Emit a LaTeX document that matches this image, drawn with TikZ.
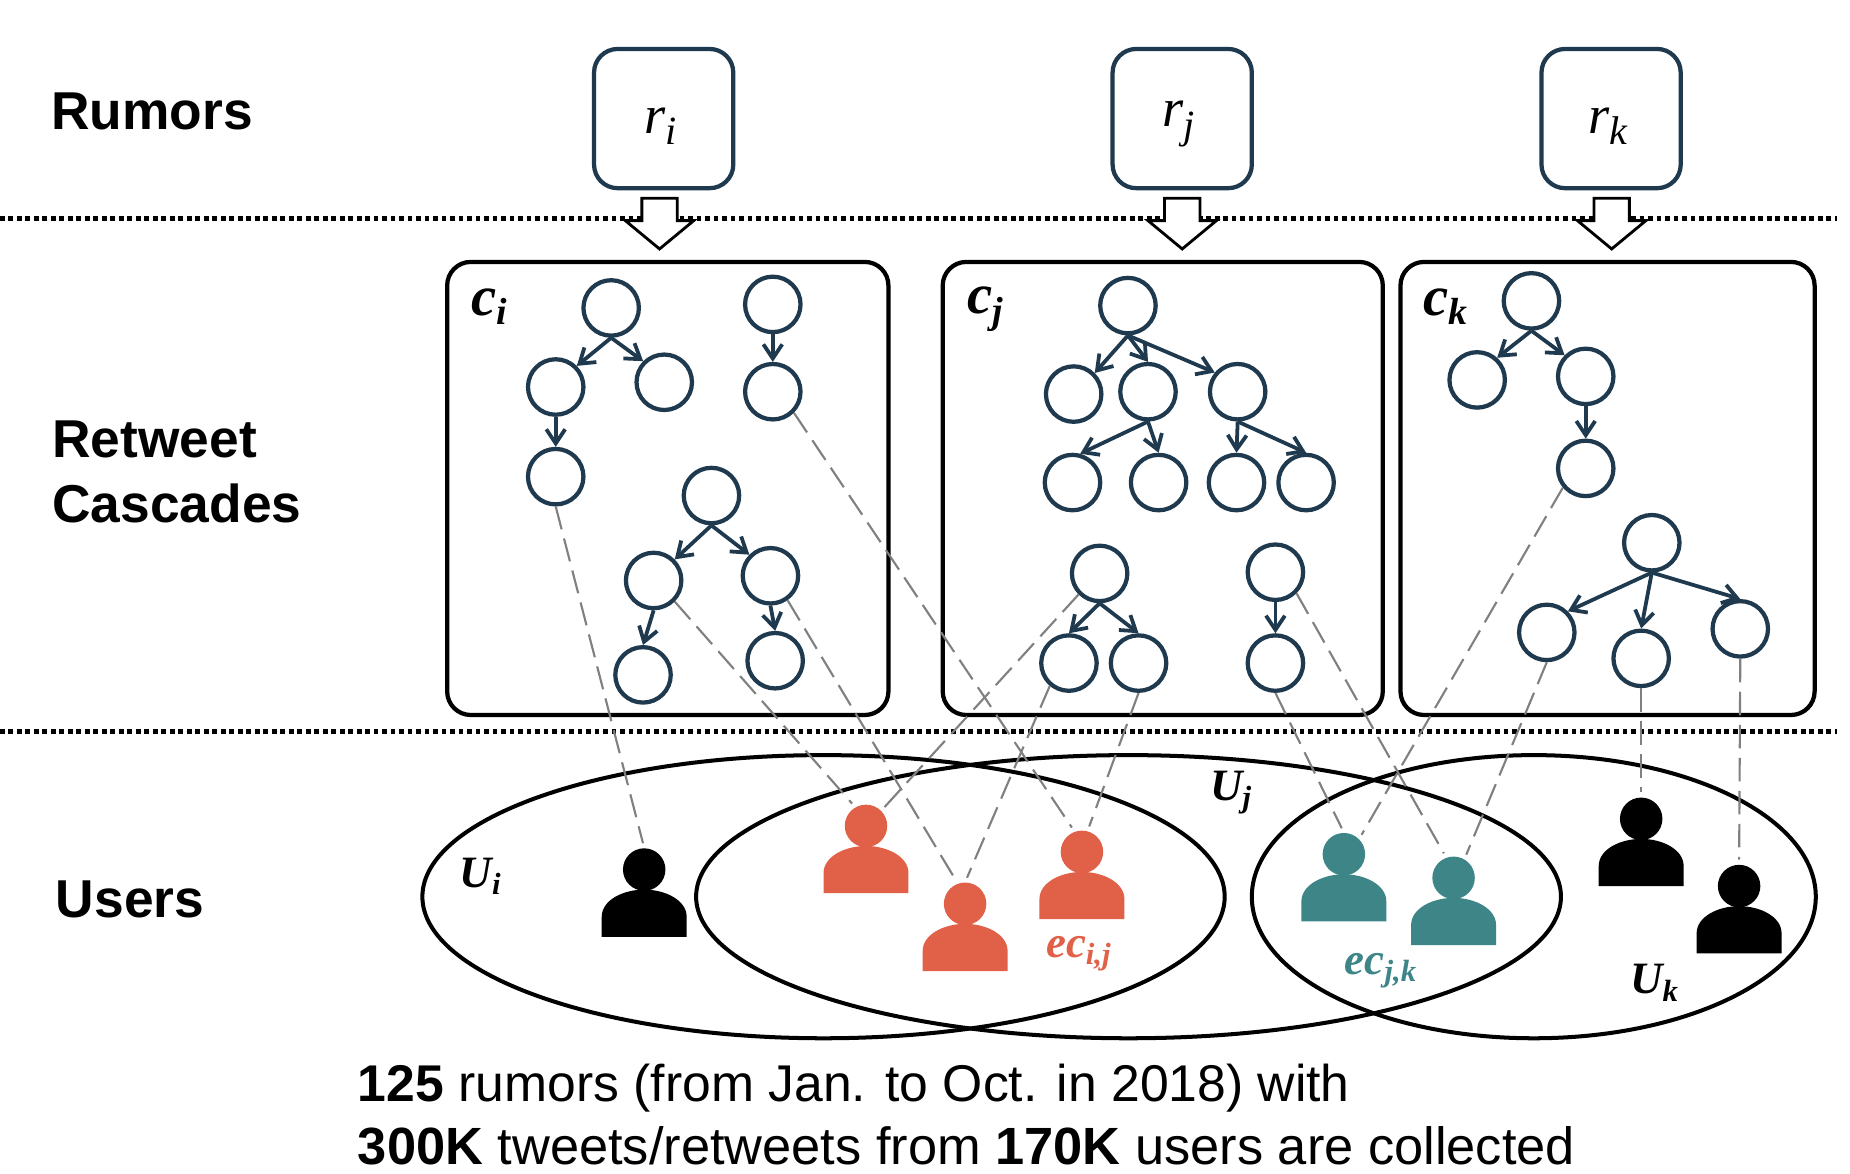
\documentclass[tikz,border=0pt]{standalone}
\usepackage{fontspec}
\setmainfont{Liberation Sans}
\newfontfamily\lserif{Liberation Serif}
\usetikzlibrary{arrows.meta,shapes.geometric}
\definecolor{navy}{HTML}{1F3A4F}
\definecolor{redp}{HTML}{E06148}
\definecolor{tealp}{HTML}{3D8587}
\tikzset{
  cnode/.style={circle,draw=navy,line width=1.8pt,minimum size=23.5pt,inner sep=0pt},
  rbox/.style={draw=navy,line width=1.8pt,rounded corners=10pt,minimum size=59pt,inner sep=0pt},
  cbox/.style={draw=black,line width=1.8pt,rounded corners=10pt,inner sep=0pt},
  tree/.style={draw=navy,line width=1.6pt,-{Straight Barb[length=6pt,width=8pt,line width=1.6pt]}},
  link/.style={draw=black!50,line width=0.9pt,dash pattern=on 10pt off 4pt,shorten >=2pt},
  sepline/.style={draw=black,line width=2.2pt,dash pattern=on 2pt off 1.6pt},
  venn/.style={draw=black,line width=1.7pt},
  blockarrow/.style={draw=black,fill=white,line width=1.2pt,line join=miter},
  heading/.style={anchor=base west,inner sep=0pt,font=\fontsize{22.6}{26}\selectfont\bfseries},
  bottomtext/.style={anchor=base west,inner sep=0pt},
  mathlabel/.style={inner sep=0pt},
}
\newcommand{\blabel}[2]{{\lserif\bfseries\itshape\fontsize{19}{22}\selectfont #1\raisebox{-3pt}{\fontsize{13}{15}\selectfont #2}}}
\newcommand{\clabel}[2]{{\lserif\bfseries\itshape\fontsize{24}{27}\selectfont #1\raisebox{-4pt}{\fontsize{16}{18}\selectfont #2}}}
\newcommand{\rlabeltext}[2]{{\lserif\itshape\fontsize{23}{26}\selectfont #1\raisebox{-5pt}{\fontsize{17}{19}\selectfont #2}}}
\newcommand{\personfig}[4]{%
  \node[circle,fill=#4,minimum size=18pt,inner sep=0pt] (#1) at (#2,#3) {};
  \fill[#4] (#2-36,#3+57) -- (#2-36,#3+40) .. controls (#2-36,#3+26) and (#2-18,#3+17) .. (#2,#3+17)
    .. controls (#2+18,#3+17) and (#2+36,#3+26) .. (#2+36,#3+40) -- (#2+36,#3+57) -- cycle;
}
\newcommand{\blockarr}[1]{%
  \draw[blockarrow] (#1-15,168) -- (#1+15,168) -- (#1+15,187) -- (#1+29,187) -- (#1,211) -- (#1-29,187) -- (#1-15,187) -- cycle;
}
\begin{document}
\begin{tikzpicture}[x=0.5pt,y=-0.5pt]
\useasboundingbox (0,0) rectangle (1568,995);
% separators
\coordinate (s1a) at (0,185); \coordinate (s1b) at (1557,185);
\coordinate (s2a) at (0,620); \coordinate (s2b) at (1557,620);
\draw[sepline] (s1a) -- (s1b);
\draw[sepline] (s2a) -- (s2b);
% headings
\node[heading] (hr) at (43,110) {Rumors};
\node[heading] (hc1) at (44,388) {Retweet};
\node[heading] (hc2) at (44,443) {Cascades};
\node[heading] (hu) at (47,778) {Users};
% rumor boxes
\node[rbox] (ri) at (562.5,100.5) {};
\node[rbox] (rj) at (1002,100.5) {};
\node[rbox] (rk) at (1365.5,100.5) {};
\node[mathlabel] (lri) at (560,107) {\rlabeltext{r}{i}};
\node[mathlabel] (lrj) at (999,105) {\rlabeltext{r}{j}};
\node[mathlabel] (lrk) at (1363,107) {\rlabeltext{r}{k}};
\blockarr{559}
\blockarr{1002}
\blockarr{1366}
% cascade boxes
\node[cbox,minimum width=187pt,minimum height=192pt] (Ci) at (566,414) {};
\node[cbox,minimum width=186.5pt,minimum height=192pt] (Cj) at (985.5,414) {};
\node[cbox,minimum width=175.5pt,minimum height=192pt] (Ck) at (1362.5,414) {};
\node[mathlabel] (lci) at (415,260) {\clabel{c}{i}};
\node[mathlabel] (lcj) at (835,262) {\clabel{c}{j}};
\node[mathlabel] (lck) at (1225,260) {\clabel{c}{k}};
% Ci trees
\node[cnode] (a1) at (518,261) {};
\node[cnode] (a2) at (471,328) {};
\node[cnode] (a3) at (563,324) {};
\node[cnode] (a4) at (471,404) {};
\node[cnode] (b1) at (655,258) {};
\node[cnode] (b2) at (655,332) {};
\node[cnode] (c1) at (603,420) {};
\node[cnode] (c2) at (554,492) {};
\node[cnode] (c3) at (653,488) {};
\node[cnode] (c4) at (545,572) {};
\node[cnode] (c5) at (657,560) {};
\draw[tree] (a1.south) -- (a2.45);
\draw[tree] (a1.south) -- (a3.135);
\draw[tree] (a2.south) -- (a4.north);
\draw[tree] (b1.south) -- (b2.north);
\draw[tree] (c1.south) -- (c2.45);
\draw[tree] (c1.south) -- (c3.135);
\draw[tree] (c2.south) -- (c4.north);
\draw[tree] (c3.south) -- (c5.north);
% Cj trees
\node[cnode] (d1) at (956,259) {};
\node[cnode] (d2) at (910,334) {};
\node[cnode] (d3) at (973,332) {};
\node[cnode] (d4) at (1049,332) {};
\node[cnode] (d5) at (909,409) {};
\node[cnode] (d6) at (982,409) {};
\node[cnode] (d7) at (1048,409) {};
\node[cnode] (d8) at (1107,409) {};
\node[cnode] (e1) at (932,486) {};
\node[cnode] (e2) at (906,562) {};
\node[cnode] (e3) at (965,562) {};
\node[cnode] (f1) at (1081,485) {};
\node[cnode] (f2) at (1081,562) {};
\draw[tree] (d1.south) -- (d2.45);
\draw[tree] (d1.south) -- (d3.north);
\draw[tree] (d1.south) -- (d4.140);
\draw[tree] (d3.south) -- (d5.75);
\draw[tree] (d3.south) -- (d6.north);
\draw[tree] (d4.south) -- (d7.north);
\draw[tree] (d4.south) -- (d8.north);
\draw[tree] (e1.south) -- (e2.north);
\draw[tree] (e1.south) -- (e3.north);
\draw[tree] (f1.south) -- (f2.north);
% Ck trees
\node[cnode] (g1) at (1298,255) {};
\node[cnode] (g2) at (1252,322) {};
\node[cnode] (g3) at (1344,319) {};
\node[cnode] (g4) at (1344,397) {};
\node[cnode] (h1) at (1400,460) {};
\node[cnode] (h2) at (1311,536) {};
\node[cnode] (h3) at (1391,558) {};
\node[cnode] (h4) at (1475,533) {};
\draw[tree] (g1.south) -- (g2.48);
\draw[tree] (g1.south) -- (g3.135);
\draw[tree] (g3.south) -- (g4.north);
\draw[tree] (h1.south) -- (h2.45);
\draw[tree] (h1.south) -- (h3.north);
\draw[tree] (h1.south) -- (h4.north);
% Venn
\node[venn,ellipse,minimum width=340pt,minimum height=120pt,inner sep=0pt] (Ui) at (698,760) {};
\node[venn,ellipse,minimum width=366.5pt,minimum height=120pt,inner sep=0pt] (Uj) at (956.5,760) {};
\node[venn,ellipse,minimum width=239pt,minimum height=120pt,inner sep=0pt] (Uk) at (1300,760) {};
\node[mathlabel] (lui) at (407,743) {\blabel{U}{i}};
\node[mathlabel] (luj) at (1043,672) {\blabel{U}{j}};
\node[mathlabel] (luk) at (1402,833) {\blabel{U}{k}};
\node[mathlabel,text=redp] (lecij) at (914,808) {\blabel{ec}{i,j}};
\node[mathlabel,text=tealp] (lecjk) at (1170,823) {\blabel{ec}{j,k}};
% users
\personfig{pa}{546}{737}{black}
\personfig{pb}{734}{700}{redp}
\personfig{pc}{818}{766}{redp}
\personfig{pd}{917}{722}{redp}
\personfig{pe}{1139}{724}{tealp}
\personfig{pf}{1232}{744}{tealp}
\personfig{pg}{1391}{694}{black}
\personfig{ph}{1474}{751}{black}
% links
\draw[link] (a4.south) -- (pa.north);
\draw[link] (b2.-45) -- (pd.110);
\draw[link] (c2.-45) -- (pb.120);
\draw[link] (c3.-55) -- (pc.110);
\draw[link] (e1.-135) -- (pb.45);
\draw[link] (e2.230) -- (pc.north);
\draw[link] (e3.south) -- (pd.75);
\draw[link] (f2.south) -- (pe.north);
\draw[link] (f1.-45) -- (pf.110);
\draw[link] (g4.-140) -- (pe.45);
\draw[link] (h2.south) -- (pf.60);
\draw[link] (h3.south) -- (pg.north);
\draw[link] (h4.south) -- (ph.north);
% bottom text
\node[bottomtext,font=\fontsize{21.9}{26}\selectfont] (t1) at (303,934) {\textbf{125} rumors (from Jan. to Oct. in 2018) with};
\node[bottomtext,font=\fontsize{22.2}{26}\selectfont] (t2) at (303,987) {\textbf{300K} tweets/retweets from \textbf{170K} users are collected};
\end{tikzpicture}
\end{document}
